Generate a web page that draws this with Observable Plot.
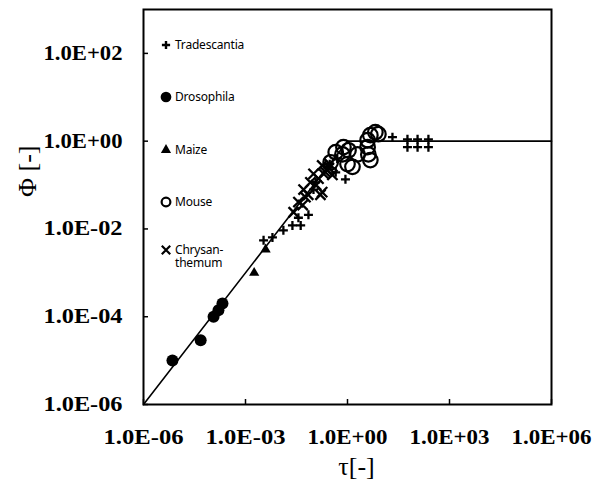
<!DOCTYPE html>
<html><head><meta charset="utf-8">
<script src="https://cdn.jsdelivr.net/npm/d3@7"></script>
<script src="https://cdn.jsdelivr.net/npm/@observablehq/plot@0.6"></script>
<style>
body{margin:0;background:#fff;}
#wrap{position:relative;width:592px;height:484px;overflow:hidden;}
.leg{position:absolute;font-family:"Noto Sans",Lato,sans-serif;font-size:12px;line-height:13px;color:#000;white-space:nowrap;letter-spacing:-0.2px;}
.leg svg{position:absolute;}
</style></head><body><div id="wrap"></div>
<script>
// Axis ticks
const xTicks = [1e-6, 1e-3, 1, 1e3, 1e6];
const xTickLabels = ["1.0E-06", "1.0E-03", "1.0E+00", "1.0E+03", "1.0E+06"];
const yTicks = [1e-6, 1e-4, 1e-2, 1, 1e2];
const yTickLabels = ["1.0E-06", "1.0E-04", "1.0E-02", "1.0E+00", "1.0E+02"];

// Model line Φ = min(τ, 1)
const lineTau = [1e-6, 1, 1e6];
const linePhi = [1e-6, 1, 1];

// Tradescantia (+)
const tradTau = [3.4e-3, 6.2e-3, 1.3e-2, 2.4e-2, 4.2e-2, 7.1e-2, 3.6e-2, 0.1, 0.87, 0.45, 0.115, 0.26, 0.3, 0.5, 21, 58, 58, 115, 115, 240, 240];
const tradPhi = [5.5e-3, 6.4e-3, 9.3e-3, 1.2e-2, 1.2e-2, 2.1e-2, 1.8e-2, 7.9e-2, 0.135, 0.195, 0.115, 0.25, 0.3, 0.4, 1.23, 1.1, 0.73, 1.1, 0.73, 1.1, 0.73];

// Drosophila (filled circle)
const drosTau = [7.1e-6, 4.8e-5, 1.15e-4, 1.6e-4, 2.1e-4];
const drosPhi = [1e-5, 2.9e-5, 1e-4, 1.4e-4, 2e-4];

// Maize (filled triangle)
const maizeTau = [1.8e-3, 3.9e-3];
const maizePhi = [1.0e-3, 3.4e-3];

// Mouse (open circle)
const mouseTau = [4.7, 6.6, 8.1, 3.9, 0.76, 1.07, 0.71, 1.97, 4.1, 4.7, 1.0, 1.4, 3.9, 0.32, 0.45];
const mousePhi = [1.37, 1.6, 1.44, 1.05, 0.73, 0.62, 0.5, 0.5, 0.5, 0.37, 0.3, 0.26, 0.73, 0.33, 0.56];

// Chrysanthemum (x)
const chrysTau = [2.6e-2, 4.8e-2, 5.8e-2, 0.18, 0.1, 0.18, 0.2, 0.36, 5.1e-2, 3.6e-2, 8.1e-2, 0.14, 0.25, 0.3, 0.16, 0.22, 0.28, 0.12, 0.07];
const chrysPhi = [2.4e-2, 3.5e-2, 5.3e-2, 6.9e-2, 0.18, 0.28, 0.18, 0.17, 7.9e-2, 4.1e-2, 0.115, 0.14, 0.22, 0.3, 0.06, 0.2, 0.25, 0.1, 0.06];

const legendNames = ["Tradescantia", "Drosophila", "Maize", "Mouse", "Chrysan-\nthemum"];

const zip = (a, b) => a.map((v, i) => ({tau: v, phi: b[i]}));
const line = zip(lineTau, linePhi);
const trad = zip(tradTau, tradPhi);
const dros = zip(drosTau, drosPhi);
const maize = zip(maizeTau, maizePhi);
const mouse = zip(mouseTau, mousePhi);
const chrys = zip(chrysTau, chrysPhi);

const findLabel = (ticks, labels) => (d) => {
  const k = ticks.findIndex(t => Math.abs(Math.log10(t) - Math.log10(d)) < 1e-6);
  return k >= 0 ? labels[k] : "";
};

const serif = "'Liberation Serif','Times New Roman',serif";

const chart = Plot.plot({
  width: 592,
  height: 484,
  marginLeft: 143,
  marginRight: 41,
  marginTop: 9,
  marginBottom: 80,
  style: {background: "#fff", color: "#000"},
  x: {type: "log", domain: [1e-6, 1e6]},
  y: {type: "log", domain: [1e-6, 1e3]},
  marks: [
    Plot.frame({stroke: "#000", strokeWidth: 2}),
    Plot.axisX({ticks: xTicks, tickSize: -5, strokeWidth: 1.5, text: null, label: null}),
    Plot.axisX({ticks: xTicks, tickSize: 0, tickPadding: 25, tickFormat: findLabel(xTicks, xTickLabels),
      fontSize: 20, fontWeight: "bold", fontFamily: serif, label: null}),
    Plot.axisY({ticks: yTicks, tickSize: -5, strokeWidth: 1.5, text: null, label: null}),
    Plot.axisY({ticks: yTicks, tickSize: 0, tickPadding: 21, tickFormat: findLabel(yTicks, yTickLabels),
      fontSize: 20, fontWeight: "bold", fontFamily: serif, label: null}),
    Plot.text(["τ[-]"], {frameAnchor: "bottom", dx: 9, dy: 70, fontSize: 26, fontFamily: serif, lineAnchor: "bottom", fill: "#000"}),
    Plot.text(["Φ [-]"], {frameAnchor: "left", dx: -116, dy: -10, rotate: -90, fontSize: 26, fontFamily: serif, fill: "#000"}),
    Plot.line(line, {x: "tau", y: "phi", stroke: "#000", strokeWidth: 1.6}),
    Plot.dot(mouse, {x: "tau", y: "phi", r: 7.3, stroke: "#000", strokeWidth: 2.2, fill: "none"}),
    Plot.dot(dros, {x: "tau", y: "phi", r: 6, fill: "#000", stroke: "none"}),
    Plot.dot(maize, {x: "tau", y: "phi", r: 3.8, symbol: "triangle", fill: "#000", stroke: "none"}),
    Plot.dot(trad, {x: "tau", y: "phi", r: 3, symbol: "plus", stroke: "#000", strokeWidth: 2.3}),
    Plot.dot(chrys, {x: "tau", y: "phi", r: 4.7, symbol: "times", stroke: "#000", strokeWidth: 2.3})
  ]
});

// stretch the bold tick labels to the wide look of the original
d3.select(chart).selectAll('g[aria-label="x-axis tick label"] text').attr("textLength", 80).attr("lengthAdjust", "spacingAndGlyphs");
d3.select(chart).selectAll('g[aria-label="y-axis tick label"] text').attr("textLength", 79).attr("lengthAdjust", "spacingAndGlyphs");

const wrap = document.getElementById("wrap");
wrap.appendChild(chart);

// legend (inside the plot frame)
const legendSymbols = [
  {type: d3.symbolPlus, size: 24, fill: "none", stroke: "#000", sw: 2.4},
  {type: d3.symbolCircle, size: 90, fill: "#000", stroke: "none", sw: 0},
  {type: d3.symbolTriangle, size: 45, fill: "#000", stroke: "none", sw: 0},
  {type: d3.symbolCircle, size: 60, fill: "none", stroke: "#000", sw: 2.2},
  {type: d3.symbolTimes, size: 48, fill: "none", stroke: "#000", sw: 2.2}
];
const legendY = [45, 97, 150, 202, 250];
legendNames.forEach((name, i) => {
  const div = document.createElement("div");
  div.className = "leg";
  div.style.left = "158px";
  div.style.top = (legendY[i] - 7) + "px";
  const s = legendSymbols[i];
  const svg = d3.create("svg").attr("width", 16).attr("height", 16)
    .style("left", "0px").style("top", "-1px");
  svg.append("path").attr("transform", "translate(8,8)")
    .attr("d", d3.symbol(s.type, s.size)())
    .attr("fill", s.fill).attr("stroke", s.stroke).attr("stroke-width", s.sw);
  div.appendChild(svg.node());
  const t = document.createElement("div");
  t.style.marginLeft = "17px";
  t.style.whiteSpace = "pre";
  t.textContent = name;
  div.appendChild(t);
  wrap.appendChild(div);
});
</script>
</body></html>
